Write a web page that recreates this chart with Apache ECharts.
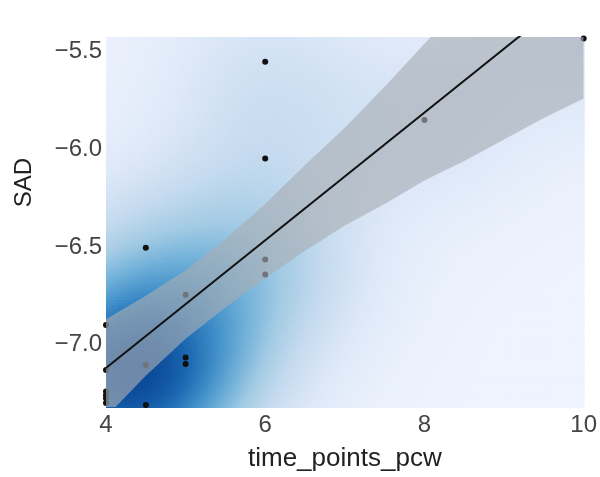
<!DOCTYPE html>
<html>
<head>
<meta charset="UTF-8" />
<title>SAD vs time_points_pcw</title>
<script src="https://cdn.jsdelivr.net/npm/echarts@6/dist/echarts.min.js"></script>
<style>
body{
	margin: 0px;
	background: #fff;
}
#chart{
	width: 600px;
	height: 477px;
}
</style>
</head>
<body>
<div id="chart"></div>
<script>
// points
var pointX = [4, 4, 4, 4, 4, 4, 4.5, 4.5, 4.5, 5, 5, 5, 6, 6, 6, 6, 8, 10];
var pointY = [-6.90, -7.13, -7.24, -7.26, -7.275, -7.30, -6.505, -7.105, -7.31, -6.745, -7.067, -7.10, -5.552, -6.047, -6.565, -6.642, -5.85, -5.433];

// fitted line and its band
var fitX = [4, 10];
var fitY = [-7.12, -5.158];
var bandX = [4, 4.5, 5, 5.5, 6, 6.5, 7, 7.5, 8, 8.5, 9, 9.5, 10];
var bandLower = [-7.37, -7.16, -6.97, -6.81, -6.66, -6.52, -6.39, -6.28, -6.16, -6.06, -5.95, -5.84, -5.74];
var bandUpper = [-6.87, -6.75, -6.62, -6.46, -6.28, -6.08, -5.89, -5.68, -5.46, -5.24, -5.03, -4.80, -4.58];

var xTicks = [4, 6, 8, 10];
var yTicks = [-7, -6.5, -6, -5.5];

var xMin = 4, xMax = 10, yMin = -7.32, yMax = -5.425;
var densityColors = ['#eef3fd', '#dde8f8', '#c6dbef', '#a3cbe4', '#6eafd8', '#3f8dc8', '#1c67b0', '#0a4798'];

// gaussian kde of the points, kernel widths in data units
var bwX = 0.92, bwY = 0.33, gamma = 0.82;

function kdeGrid(nx, ny){
	var n = pointX.length, i;
	var cw = (xMax - xMin) / nx, ch = (yMax - yMin) / ny;
	var cells = [], max = 0;
	for(var gx = 0; gx < nx; gx++){
		for(var gy = 0; gy < ny; gy++){
			var cx = xMin + (gx + 0.5) * cw, cy = yMin + (gy + 0.5) * ch, s = 0;
			for(i = 0; i < n; i++){
				var ex = (cx - pointX[i]) / bwX, ey = (cy - pointY[i]) / bwY;
				s += Math.exp(-0.5 * (ex * ex + ey * ey));
			}
			if(s > max) max = s;
			cells.push([cx, cy, s]);
		}
	}
	cells.forEach(function(c){ c[2] = Math.pow(c[2] / max, gamma); });
	return {cells: cells, cw: cw, ch: ch};
}

var kde = kdeGrid(150, 120);

function renderCell(params, api){
	var x = api.value(0), y = api.value(1);
	var p0 = api.coord([x - kde.cw / 2, y + kde.ch / 2]);
	var p1 = api.coord([x + kde.cw / 2, y - kde.ch / 2]);
	return {
		type: 'rect',
		shape: {x: p0[0], y: p0[1], width: p1[0] - p0[0] + 1, height: p1[1] - p0[1] + 1},
		style: {fill: api.visual('color')}
	};
}

function renderBand(params, api){
	var pts = [], i;
	for(i = 0; i < bandX.length; i++) pts.push(api.coord([bandX[i], bandUpper[i]]));
	for(i = bandX.length - 1; i >= 0; i--) pts.push(api.coord([bandX[i], bandLower[i]]));
	var cs = params.coordSys;
	return {
		type: 'polygon',
		shape: {points: pts},
		style: {fill: 'rgba(168,173,180,0.64)'},
		clipPath: {type: 'rect', shape: {x: cs.x, y: cs.y, width: cs.width, height: cs.height}}
	};
}

var points = pointX.map(function(x, i){ return [x, pointY[i]]; });
var fit = fitX.map(function(x, i){ return [x, fitY[i]]; });

var chart = echarts.init(document.getElementById('chart'));
chart.setOption({
	animation: false,
	grid: {left: 106, right: 14, top: 37, bottom: 60},
	visualMap: {
		show: false, type: 'continuous', seriesIndex: 0, dimension: 2,
		min: 0, max: 1, inRange: {color: densityColors}
	},
	xAxis: {
		type: 'value', min: xMin, max: xMax, interval: 2,
		name: 'time_points_pcw', nameLocation: 'middle', nameGap: 39,
		nameTextStyle: {fontFamily: 'Liberation Sans', fontSize: 26, color: '#222'},
		axisLine: {show: false}, axisTick: {show: false}, splitLine: {show: false},
		axisLabel: {fontFamily: 'Liberation Sans', fontSize: 24, color: '#444', margin: 6}
	},
	yAxis: {
		type: 'value', min: yMin, max: yMax,
		axisLine: {show: false}, axisTick: {show: false}, splitLine: {show: false},
		axisLabel: {
			fontFamily: 'Liberation Sans', fontSize: 24, color: '#444', margin: 4,
			customValues: yTicks,
			formatter: function(v){ return v.toFixed(1).replace('-', '\u2212'); }
		}
	},
	graphic: [{
		type: 'text', left: 12, top: 158, rotation: Math.PI / 2,
		style: {text: 'SAD', font: '24px "Liberation Sans"', fill: '#222'}
	}],
	series: [
		{type: 'custom', renderItem: renderCell, data: kde.cells, z: 1, silent: true},
		{type: 'scatter', data: points, symbolSize: 6, itemStyle: {color: '#111', opacity: 1}, z: 2},
		{type: 'custom', renderItem: renderBand, data: [[4, -7]], z: 3, silent: true},
		{type: 'line', data: fit, symbol: 'none', lineStyle: {color: '#111', width: 2}, z: 4}
	]
});
</script>
</body>
</html>
